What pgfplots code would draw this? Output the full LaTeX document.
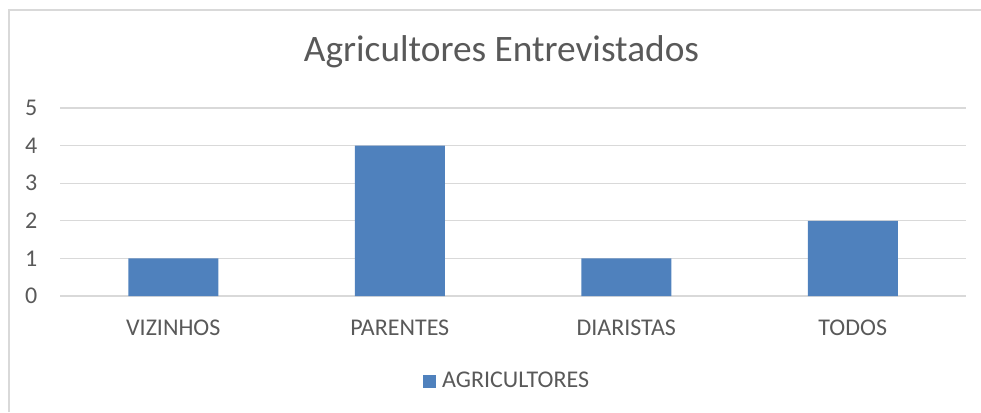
\documentclass[border=0pt]{standalone}
\usepackage{fontspec}
\setmainfont{Carlito}
\usepackage{pgfplots}
\pgfplotsset{compat=1.18}
\definecolor{barblue}{HTML}{4F81BD}
\definecolor{txt}{HTML}{595959}
\definecolor{gridc}{HTML}{D9D9D9}
\begin{document}
\begin{tikzpicture}[x=0.75pt,y=0.75pt]
\useasboundingbox (0,0) rectangle (981,412);
\draw[gridc, line width=1.5pt] (8.5,0) -- (8.5,402.5) -- (981,402.5);
\coordinate (O) at (60,116);
\begin{axis}[
  at={(O)}, anchor=south west,
  scale only axis, width=679.5pt, height=141pt,
  xmin=-0.5, xmax=3.5, ymin=0, ymax=5,
  ytick={0,1,2,3,4,5},
  xtick={0,1,2,3},
  xticklabels={VIZINHOS,PARENTES,DIARISTAS,TODOS},
  axis line style={draw=none},
  axis x line*=bottom,
  x axis line style={draw=gridc, line width=1pt},
  major tick length=0pt,
  ymajorgrids, grid style={gridc, line width=1pt},
  /pgf/number format/assume math mode=true,
  tick label style={font=\fontsize{18}{20}\selectfont, text=txt},
  yticklabel style={anchor=east, inner sep=0pt, xshift=-16.9pt},
  xticklabel style={anchor=north, inner sep=0pt, yshift=-18pt},
  title={Agricultores Entrevistados},
  title style={at={(0.4873,1.2074)}, anchor=base, inner sep=0pt, font=\fontsize{28}{32}\selectfont, text=txt},
  legend style={at={(0.4956,-0.452)}, anchor=center, draw=none, fill=none, font=\fontsize{18}{20}\selectfont, text=txt, inner sep=0pt, nodes={inner ysep=2pt, inner xsep=4.5pt}},
  ybar, bar width=67.5pt,
]
\addplot[fill=barblue, draw=none, bar shift=0pt,
  legend image code/.code={\fill[barblue] (0pt,-5.5pt) rectangle (10pt,4.5pt);}] coordinates {(0,1) (1,4) (2,1) (3,2)};
\addlegendentry{AGRICULTORES}
\end{axis}
\end{tikzpicture}
\end{document}
